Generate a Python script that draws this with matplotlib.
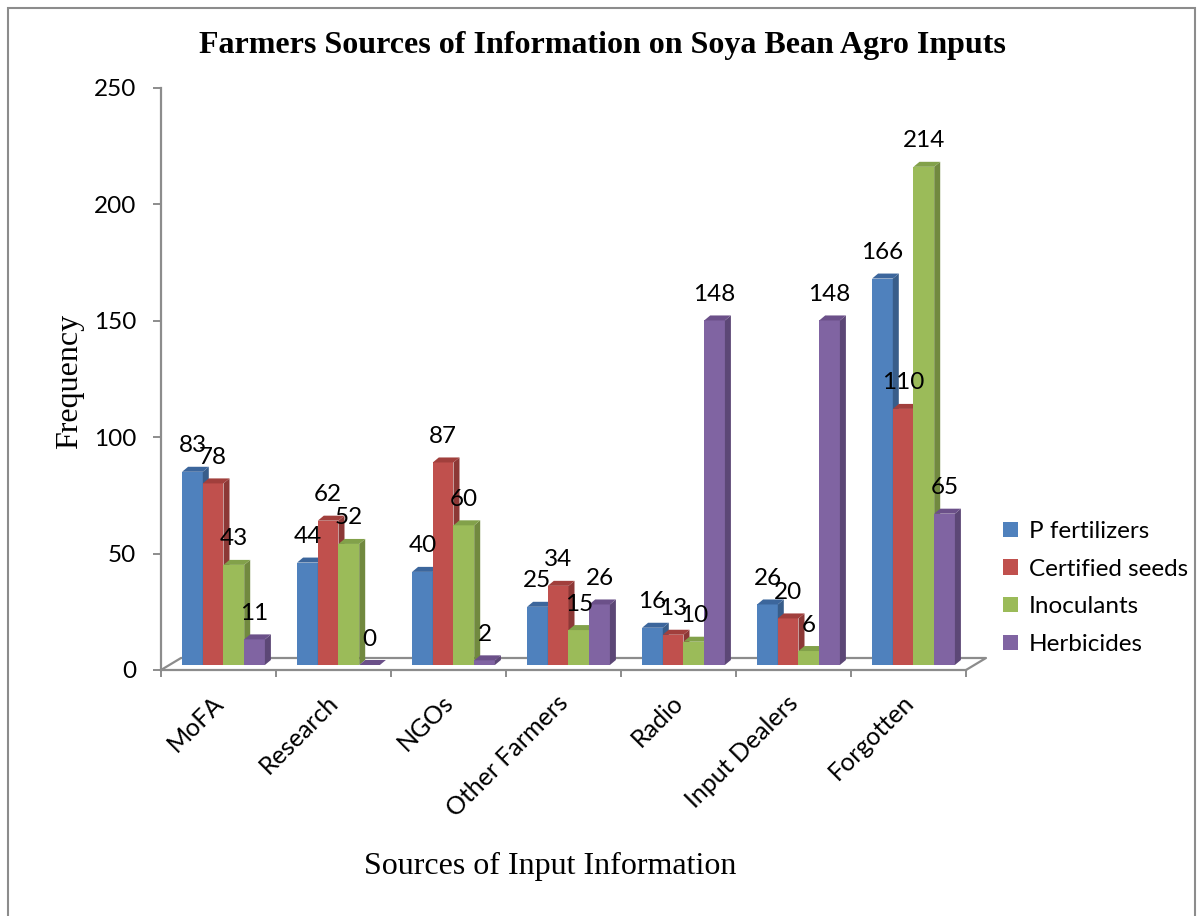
import matplotlib
matplotlib.use('Agg')
import matplotlib.pyplot as plt
from matplotlib.patches import Patch, Polygon, Rectangle
from matplotlib.transforms import ScaledTranslation
import numpy as np

# chart data
categories = ['MoFA', 'Research', 'NGOs', 'Other Farmers', 'Radio', 'Input Dealers', 'Forgotten']
series_names = ['P fertilizers', 'Certified seeds', 'Inoculants', 'Herbicides']
p_fertilizers = [83, 44, 40, 25, 16, 26, 166]
certified_seeds = [78, 62, 87, 34, 13, 20, 110]
inoculants = [43, 52, 60, 15, 10, 6, 214]
herbicides = [11, 0, 2, 26, 148, 148, 65]
series_values = [p_fertilizers, certified_seeds, inoculants, herbicides]
y_ticks = [0, 50, 100, 150, 200, 250]

# excel 2007 style colours: front, side, top faces
front_col = ['#4F81BD', '#C0504D', '#9BBB59', '#8064A2']
side_col = ['#385D8A', '#8C3836', '#71893F', '#5C4776']
top_col = ['#3C669C', '#A13F3C', '#82A14A', '#6B5089']
grey = '#8C8C8C'

sans = 'Lato'
serif = 'Liberation Serif'
fs = 17.5

W, H = 1202, 916
fig = plt.figure(figsize=(W / 100, H / 100), dpi=100)

# plot area in pixels
left_px, right_px, base_px, top_px = 161, 966, 670, 88
ax = fig.add_axes([left_px / W, 1 - base_px / H, (right_px - left_px) / W, (base_px - top_px) / H])
ax.set_xlim(0, len(categories))
ax.set_ylim(0, 250)
ax.patch.set_alpha(0)

xu = (right_px - left_px) / len(categories)   # pixels per category
yu = (base_px - top_px) / 250.0              # pixels per unit

def px(dx, dy):
    return ScaledTranslation(dx / 100, dy / 100, fig.dpi_scale_trans)

bar_tr = ax.transData + px(5, 5)
bw = 0.18
ddx, ddy = 6 / xu, 5 / yu

# floor outline
fx, fy = 20 / xu, 12 / yu
n = len(categories)
ax.plot([0, fx, n + fx, n], [0, fy, fy, 0], color=grey, lw=1.6, clip_on=False, zorder=1)

for j, vals in enumerate(series_values):
    xs = np.arange(n) + 0.5 + (j - 1.5) * bw
    ax.bar(xs, vals, bw, color=front_col[j], linewidth=0, transform=bar_tr,
           zorder=3 + j, label=series_names[j])
    for x, v in zip(xs, vals):
        xl, xr = x - bw / 2, x + bw / 2
        side = Polygon([(xr, 0), (xr + ddx, ddy), (xr + ddx, v + ddy), (xr, v)],
                       closed=True, facecolor=side_col[j], edgecolor='none',
                       transform=bar_tr, zorder=3 + j)
        top = Polygon([(xl, v), (xl + ddx, v + ddy), (xr + ddx, v + ddy), (xr, v)],
                      closed=True, facecolor=top_col[j], edgecolor='none',
                      transform=bar_tr, zorder=3 + j)
        ax.add_patch(side)
        ax.add_patch(top)
        ax.text(x, v, str(v), transform=ax.transData + px(5, 31), ha='center', va='center',
                fontsize=fs, family=sans, zorder=20)

# axes styling
for s in ['top', 'right']:
    ax.spines[s].set_visible(False)
for s in ['left', 'bottom']:
    ax.spines[s].set_color(grey)
    ax.spines[s].set_linewidth(1.6)

ax.set_yticks(y_ticks)
ax.set_yticklabels([str(t) for t in y_ticks], fontsize=fs, family=sans)
ax.set_xticks(np.arange(n + 1))
ax.set_xticklabels([])
ax.tick_params(axis='y', direction='out', length=6, width=1.4, color=grey, pad=12)
ax.tick_params(axis='x', direction='out', length=5, width=1.4, color=grey)

for i, c in enumerate(categories):
    ax.text(i + 0.5, 0, c, transform=ax.transData + px(1, -29), rotation=45,
            rotation_mode='anchor', ha='right', va='center', fontsize=18, family=sans)

handles = [Patch(facecolor=front_col[j], edgecolor='none') for j in range(4)]
fig.legend(handles, series_names, loc='center left', bbox_to_anchor=(1003 / W, 1 - 588 / H),
           frameon=False, prop={'family': sans, 'size': fs},
           handlelength=0.6, handleheight=0.6, handletextpad=0.45,
           labelspacing=0.68, borderpad=0, borderaxespad=0)

fig.text(602 / W, 1 - 45 / H, 'Farmers Sources of Information on Soya Bean Agro Inputs',
         ha='center', va='center', fontsize=23, fontweight='bold', family=serif)
fig.text(70 / W, 1 - 381 / H, 'Frequency', rotation=90, ha='center', va='center',
         fontsize=23, family=serif)
fig.text(550 / W, 1 - 866 / H, 'Sources of Input Information', ha='center', va='center',
         fontsize=23, family=serif)

# outer chart border
fig.add_artist(Rectangle((8 / W, -0.02), (1195 - 8) / W, 1 - 8 / H + 0.02,
                         transform=fig.transFigure, fill=False, edgecolor=grey, lw=1.5))

fig.savefig('out.png', dpi=100)
